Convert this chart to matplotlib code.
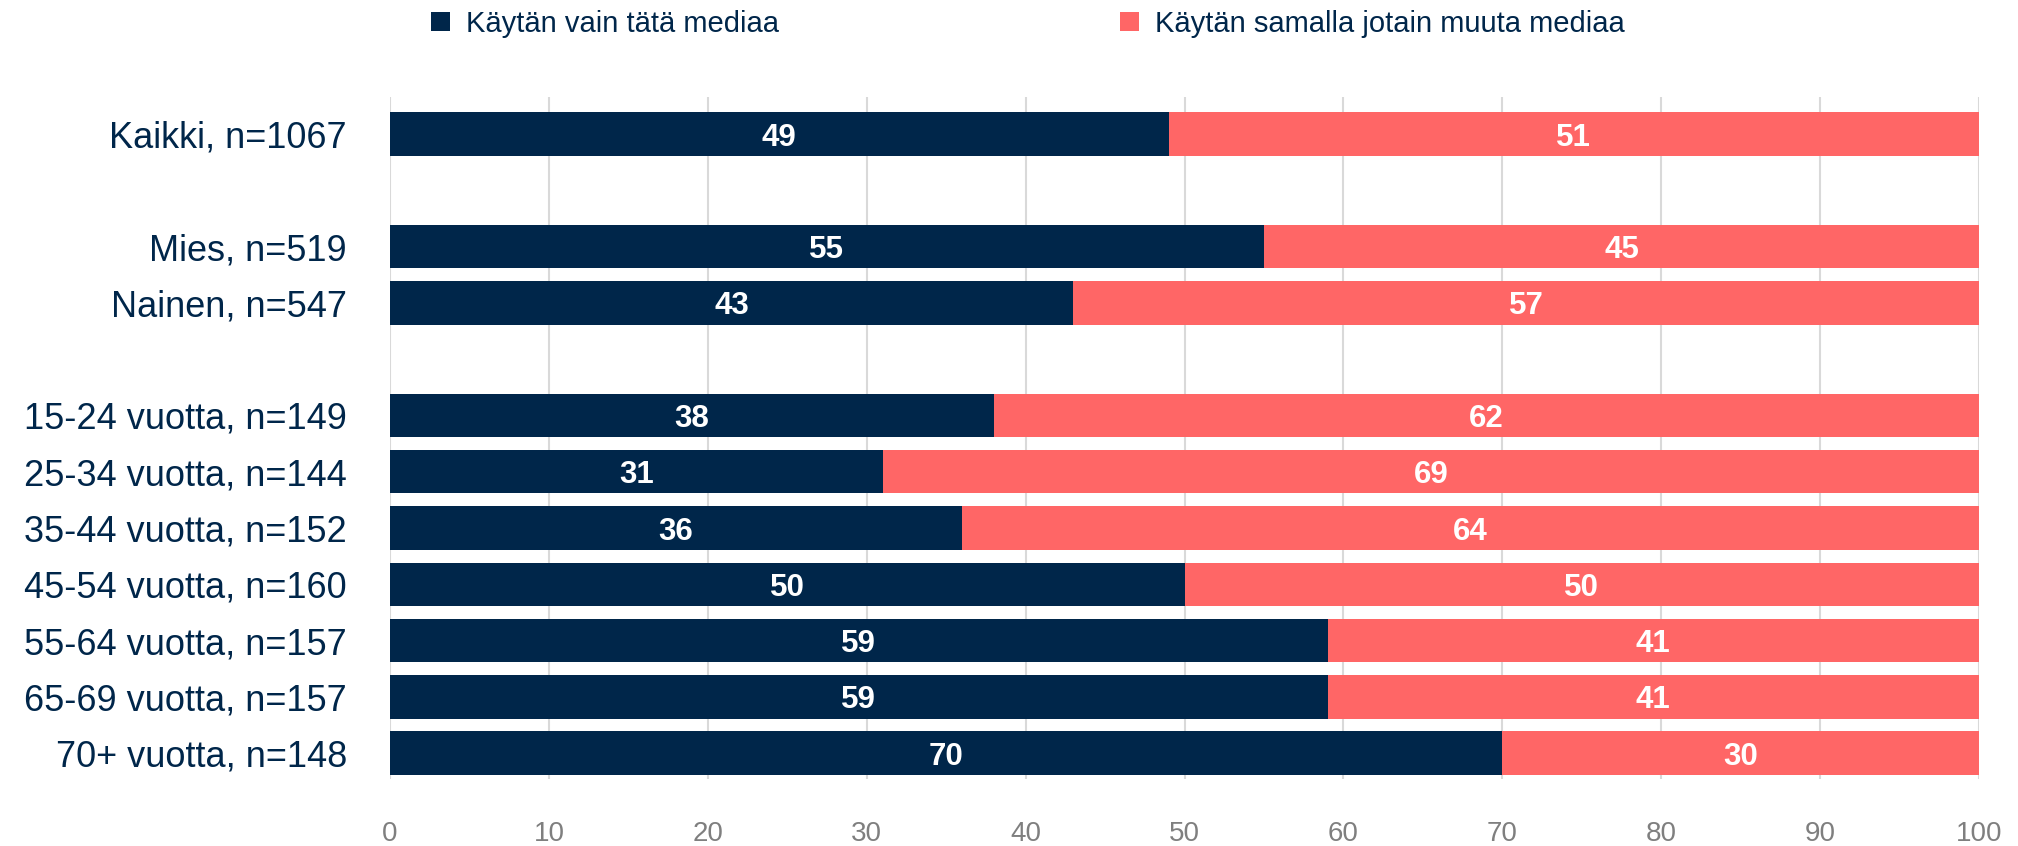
import matplotlib
matplotlib.use("Agg")
import matplotlib.pyplot as plt
import numpy as np

plt.rcParams['font.family'] = ['Liberation Sans', 'DejaVu Sans']

categories = [
    "Kaikki, n=1067",
    "Mies, n=519",
    "Nainen, n=547",
    "15-24 vuotta, n=149",
    "25-34 vuotta, n=144",
    "35-44 vuotta, n=152",
    "45-54 vuotta, n=160",
    "55-64 vuotta, n=157",
    "65-69 vuotta, n=157",
    "70+ vuotta, n=148",
]
# row slots (blank slots separate the groups)
slots = [0, 2, 3, 5, 6, 7, 8, 9, 10, 11]

only_this = [49, 55, 43, 38, 31, 36, 50, 59, 59, 70]
also_other = [51, 45, 57, 62, 69, 64, 50, 41, 41, 30]

series_names = ["Käytän vain tätä mediaa", "Käytän samalla jotain muuta mediaa"]
x_ticks = [0, 10, 20, 30, 40, 50, 60, 70, 80, 90, 100]

NAVY = "#00264A"
CORAL = "#FF6666"
GRID = "#D9D9D9"
TICK_GRAY = "#7F7F7F"

W, H = 2018, 846
fig = plt.figure(figsize=(W / 100, H / 100), dpi=100)
ax = fig.add_axes([390 / W, 1 - 779 / H, (1979 - 390) / W, (779 - 97) / H])

bar_h = 0.77
y = np.array(slots, dtype=float)
b1 = ax.barh(y, only_this, height=bar_h, color=NAVY, label=series_names[0], zorder=3)
b2 = ax.barh(y, also_other, left=only_this, height=bar_h, color=CORAL,
             label=series_names[1], zorder=3)

for bars in (b1, b2):
    texts = ax.bar_label(bars, labels=[f"{v:g}" for v in bars.datavalues],
                         label_type='center', color='white', fontsize=22.5,
                         fontweight='bold', zorder=4)
    for t in texts:
        t.set_verticalalignment('center_baseline')

ax.set_xlim(0, 100)
ax.set_ylim(11.46, -0.66)
ax.set_xticks(x_ticks)
ax.set_xticklabels([str(t) for t in x_ticks])
ax.set_yticks(y)
ax.set_yticklabels(categories)

ax.tick_params(axis='y', length=0, pad=31, labelsize=26, labelcolor=NAVY)
ax.tick_params(axis='x', length=0, pad=30, labelsize=20, labelcolor=TICK_GRAY)

ax.grid(axis='x', color=GRID, linewidth=1.5, zorder=0)
ax.set_axisbelow(True)
for s in ax.spines.values():
    s.set_visible(False)

fig.legend(handles=[b1, b2], labels=series_names, loc='center left',
           bbox_to_anchor=(431 / W, 1 - 24 / H), ncol=2, frameon=False,
           fontsize=21, handlelength=0.65, handleheight=0.65,
           handletextpad=0.55, columnspacing=11.7, borderpad=0,
           borderaxespad=0, labelcolor=NAVY)

fig.savefig("out.png", dpi=100)
